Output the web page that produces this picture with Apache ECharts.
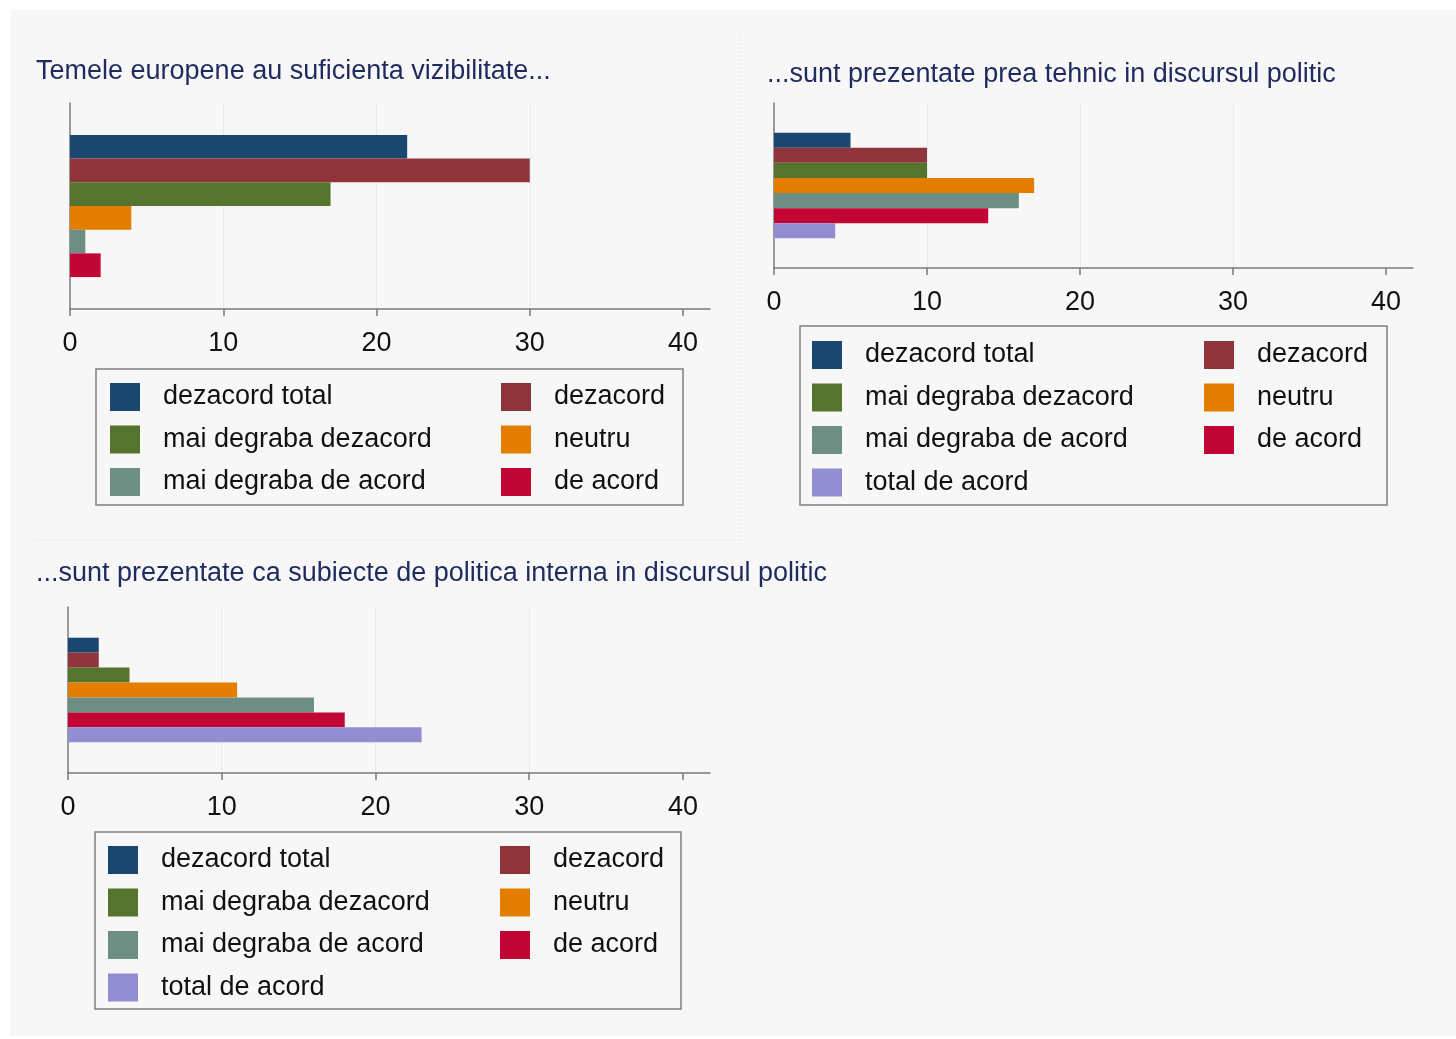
<!DOCTYPE html>
<html>
<head>
<meta charset="utf-8">
<title>Temele europene</title>
<script src="https://cdn.jsdelivr.net/npm/echarts@6/dist/echarts.min.js"></script>
<style>
  html, body { margin: 0; padding: 0; background: #fff; }
  #bg { position: absolute; left: 10px; top: 10px; width: 1446px; height: 1026px; background: #f7f7f7; }
  #chart { position: absolute; left: 0; top: 0; width: 1456px; height: 1039px; }
</style>
</head>
<body>
<div id="bg"></div>
<div id="chart"></div>
<script>
// answer categories, in Stata's bar order
const categories = [
  'dezacord total',
  'dezacord',
  'mai degraba dezacord',
  'neutru',
  'mai degraba de acord',
  'de acord',
  'total de acord',
];
// counts per panel (first panel has no "total de acord")
const vizibilitate = [22, 30, 17, 4, 1, 2];
const prezentateTehnic = [5, 10, 10, 17, 16, 14, 4];
const politicaInterna = [2, 2, 4, 11, 16, 18, 23];
const tickValues = [0, 10, 20, 30, 40];

const titles = [
  'Temele europene au suficienta vizibilitate...',
  '...sunt prezentate prea tehnic in discursul politic',
  '...sunt prezentate ca subiecte de politica interna in discursul politic',
];

// legend columns (stata key is filled row by row)
const keyLeft6 = ['dezacord total', 'mai degraba dezacord', 'mai degraba de acord'];
const keyLeft7 = ['dezacord total', 'mai degraba dezacord', 'mai degraba de acord', 'total de acord'];
const keyRight = ['dezacord', 'neutru', 'de acord'];

// stata s2color palette
const colors = ['#1a476f', '#90353b', '#55752f', '#e37e00', '#6e8e84', '#c10534', '#938dd2'];

const font = "'Liberation Sans', Arial, sans-serif";
const fontSize = 27;
const axisGray = '#7a7a7a';
const xMax = 41.76; // stata lets the axis run a little past the last tick

const grids = [
  { left: 70, top: 103, width: 640, height: 206 },
  { left: 774, top: 103, width: 639, height: 165 },
  { left: 68, top: 607, width: 642, height: 166 },
];

function makeXAxis(gridIndex) {
  return {
    type: 'value',
    gridIndex: gridIndex,
    min: 0,
    max: xMax,
    interval: 10,
    axisLine: { show: true, lineStyle: { color: axisGray, width: 1.5 } },
    axisTick: { show: true, length: 7, customValues: tickValues, lineStyle: { color: axisGray, width: 1.5 } },
    axisLabel: {
      customValues: tickValues,
      margin: 21,
      color: '#111',
      fontSize: fontSize,
      fontFamily: font,
    },
    splitLine: {
      show: true,
      showMinLine: false,
      showMaxLine: false,
      lineStyle: { color: '#e3ecef', width: 1 },
    },
  };
}

function makeYAxis(gridIndex) {
  return {
    type: 'category',
    gridIndex: gridIndex,
    data: [''],
    axisLine: { show: true, lineStyle: { color: axisGray, width: 1.5 } },
    axisTick: { show: false },
    axisLabel: { show: false },
    splitLine: { show: false },
  };
}

function makeSeries(values, gridIndex, gap) {
  return values.map((v, i) => ({
    name: categories[i],
    type: 'bar',
    xAxisIndex: gridIndex,
    yAxisIndex: gridIndex,
    data: [v],
    barGap: '0%',
    barCategoryGap: gap,
    itemStyle: { color: colors[i] },
    emphasis: { disabled: true },
  }));
}

// one legend per key column
function makeLegend(names, left, top) {
  return {
    orient: 'vertical',
    left: left,
    top: top,
    padding: 0,
    itemWidth: 30,
    itemHeight: 28,
    itemGap: 14.5,
    icon: 'rect',
    selectedMode: false,
    textStyle: {
      color: '#111',
      fontSize: fontSize,
      fontFamily: font,
      padding: [0, 0, 0, 18],
    },
    data: names,
  };
}

// frame around a key
function keyBox(x, y, w, h) {
  return {
    type: 'rect',
    silent: true,
    shape: { x: x, y: y, width: w, height: h },
    style: { fill: 'none', stroke: '#808080', lineWidth: 1.5 },
  };
}

function dottedLine(x1, y1, x2, y2) {
  return {
    type: 'line',
    silent: true,
    shape: { x1: x1, y1: y1, x2: x2, y2: y2 },
    style: { stroke: '#dde7eb', lineDash: [2, 2], lineWidth: 1 },
  };
}

const chart = echarts.init(document.getElementById('chart'));

const option = {
  backgroundColor: 'transparent',
  animation: false,
  title: [
    { text: titles[0], left: 36, top: 58 },
    { text: titles[1], left: 767, top: 61 },
    { text: titles[2], left: 36, top: 560 },
  ].map((t) => Object.assign(t, {
    padding: 0,
    textStyle: { color: '#1f2a5e', fontSize: fontSize, fontWeight: 'normal', fontFamily: font },
  })),
  grid: grids,
  xAxis: [makeXAxis(0), makeXAxis(1), makeXAxis(2)],
  yAxis: [makeYAxis(0), makeYAxis(1), makeYAxis(2)],
  legend: [
    makeLegend(keyLeft6, 110, 383),
    makeLegend(keyRight, 501, 383),
    makeLegend(keyLeft7, 812, 341),
    makeLegend(keyRight, 1204, 341),
    makeLegend(keyLeft7, 108, 846),
    makeLegend(keyRight, 500, 846),
  ],
  graphic: [
    keyBox(96, 369, 587, 136),
    keyBox(800, 326, 587, 179),
    keyBox(95, 832, 586, 177),
    // faint dotted frame between the sub-graphs
    dottedLine(740, 35, 740, 540),
    dottedLine(35, 540, 740, 540),
  ],
  series: [].concat(
    makeSeries(vizibilitate, 0, '31%'),
    makeSeries(prezentateTehnic, 1, '36%'),
    makeSeries(politicaInterna, 2, '37%')
  ),
};

chart.setOption(option);

window.addEventListener('resize', () => {
  chart.resize();
});
</script>
</body>
</html>
